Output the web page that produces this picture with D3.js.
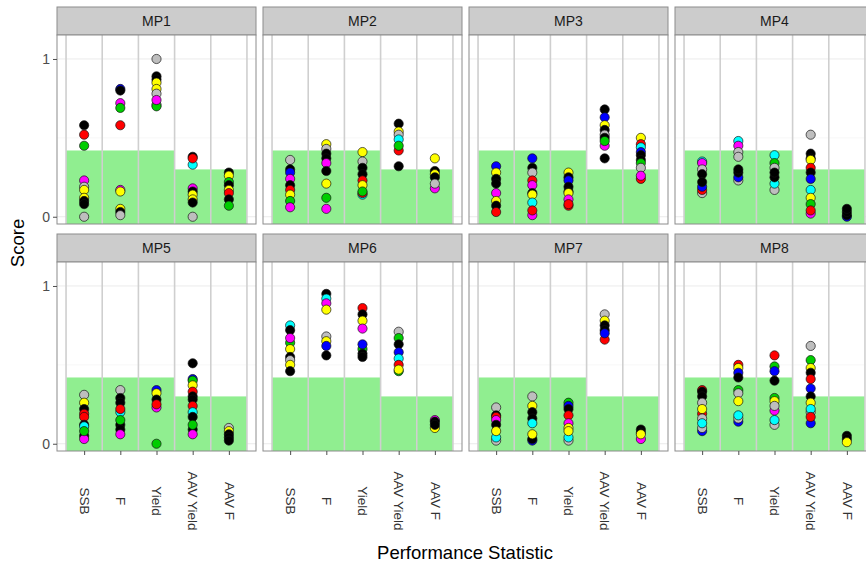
<!DOCTYPE html>
<html>
<head>
<meta charset="utf-8">
<script src="https://cdn.jsdelivr.net/npm/d3@7"></script>
<style>
  body { margin: 0; background: #fff; }
  svg { display: block; font-family: "Liberation Sans", Arial, sans-serif; }
</style>
</head>
<body>
<div id="chart"></div>
<script>
// categories
const stats = ["SSB", "F", "Yield", "AAV Yield", "AAV F"];
const mps = ["MP1", "MP2", "MP3", "MP4", "MP5", "MP6", "MP7", "MP8"];
const targets = [0.42, 0.42, 0.42, 0.30, 0.30];   // green "acceptable" zone per statistic
const yTicks = [0, 1];

// point fills (R palette 1:8)
const palette = { k: "#000000", r: "#ff0000", g: "#00cd00", b: "#0000ff",
                  c: "#00ffff", m: "#ff00ff", y: "#ffff00", gr: "#bebebe" };

// scores: one list per statistic, [value, colour]
const mp1 = [
  [[0.58,"k"],[0.52,"r"],[0.45,"g"],[0.23,"m"],[0.19,"gr"],[0.17,"y"],[0.12,"y"],[0.10,"k"],[0.08,"k"],[0.0,"gr"]],
  [[0.81,"b"],[0.80,"k"],[0.72,"m"],[0.69,"g"],[0.58,"r"],[0.17,"m"],[0.16,"y"],[0.05,"y"],[0.03,"k"],[0.01,"gr"]],
  [[1.0,"gr"],[0.89,"k"],[0.87,"k"],[0.85,"y"],[0.81,"y"],[0.78,"gr"],[0.71,"gr"],[0.70,"g"],[0.74,"m"]],
  [[0.38,"k"],[0.33,"c"],[0.37,"r"],[0.18,"m"],[0.16,"k"],[0.14,"y"],[0.11,"y"],[0.09,"k"],[0.0,"gr"]],
  [[0.28,"k"],[0.26,"y"],[0.22,"g"],[0.20,"k"],[0.17,"y"],[0.15,"r"],[0.11,"k"],[0.07,"g"]]
];
const mp2 = [
  [[0.36,"gr"],[0.30,"k"],[0.28,"b"],[0.24,"m"],[0.20,"k"],[0.17,"r"],[0.14,"y"],[0.10,"g"],[0.06,"m"]],
  [[0.46,"y"],[0.43,"gr"],[0.40,"k"],[0.37,"k"],[0.34,"m"],[0.29,"k"],[0.21,"y"],[0.12,"g"],[0.05,"m"]],
  [[0.41,"y"],[0.35,"gr"],[0.31,"k"],[0.27,"k"],[0.23,"r"],[0.20,"y"],[0.14,"c"],[0.15,"r"],[0.16,"g"]],
  [[0.59,"k"],[0.54,"y"],[0.52,"gr"],[0.49,"c"],[0.42,"r"],[0.45,"g"],[0.32,"k"]],
  [[0.37,"y"],[0.29,"k"],[0.27,"y"],[0.25,"k"],[0.18,"m"],[0.21,"gr"]]
];
const mp3 = [
  [[0.32,"b"],[0.28,"y"],[0.24,"k"],[0.21,"k"],[0.15,"m"],[0.10,"y"],[0.07,"k"],[0.03,"r"]],
  [[0.37,"b"],[0.31,"k"],[0.28,"gr"],[0.23,"r"],[0.20,"m"],[0.15,"k"],[0.14,"y"],[0.09,"c"],[0.01,"m"],[0.04,"r"]],
  [[0.28,"y"],[0.25,"k"],[0.23,"b"],[0.19,"k"],[0.16,"k"],[0.15,"y"],[0.11,"m"],[0.07,"r"],[0.08,"r"]],
  [[0.68,"k"],[0.63,"b"],[0.58,"y"],[0.55,"k"],[0.52,"gr"],[0.50,"k"],[0.45,"m"],[0.48,"g"],[0.37,"k"]],
  [[0.50,"y"],[0.46,"r"],[0.44,"c"],[0.41,"b"],[0.39,"k"],[0.36,"k"],[0.34,"g"],[0.31,"gr"],[0.24,"r"],[0.26,"m"]]
];
const mp4 = [
  [[0.35,"c"],[0.34,"m"],[0.30,"gr"],[0.27,"k"],[0.15,"gr"],[0.17,"r"],[0.19,"b"],[0.22,"k"]],
  [[0.48,"c"],[0.45,"m"],[0.41,"gr"],[0.38,"gr"],[0.23,"gr"],[0.25,"b"],[0.28,"k"],[0.30,"k"]],
  [[0.39,"c"],[0.34,"g"],[0.31,"gr"],[0.17,"gr"],[0.21,"c"],[0.25,"k"],[0.28,"k"]],
  [[0.52,"gr"],[0.40,"k"],[0.37,"k"],[0.36,"y"],[0.31,"r"],[0.28,"k"],[0.24,"b"],[0.17,"c"],[0.12,"y"],[0.08,"g"],[0.02,"m"],[0.04,"r"]],
  [[0.0,"b"],[0.01,"k"],[0.03,"k"],[0.05,"k"]]
];
const mp5 = [
  [[0.31,"gr"],[0.26,"y"],[0.22,"k"],[0.19,"r"],[0.17,"r"],[0.12,"k"],[0.11,"c"],[0.05,"k"],[0.03,"m"],[0.08,"g"]],
  [[0.34,"gr"],[0.29,"k"],[0.26,"k"],[0.20,"c"],[0.22,"r"],[0.12,"k"],[0.09,"k"],[0.06,"m"],[0.15,"g"]],
  [[0.34,"b"],[0.32,"y"],[0.28,"k"],[0.23,"m"],[0.25,"r"],[0.0,"g"]],
  [[0.51,"k"],[0.41,"b"],[0.40,"g"],[0.37,"y"],[0.33,"r"],[0.30,"k"],[0.28,"k"],[0.24,"r"],[0.20,"c"],[0.17,"k"],[0.09,"k"],[0.06,"m"],[0.12,"g"]],
  [[0.10,"gr"],[0.08,"y"],[0.06,"k"],[0.04,"k"],[0.02,"k"]]
];
const mp6 = [
  [[0.75,"c"],[0.72,"k"],[0.64,"g"],[0.67,"m"],[0.60,"y"],[0.55,"k"],[0.53,"gr"],[0.50,"y"],[0.46,"k"]],
  [[0.95,"k"],[0.92,"c"],[0.89,"m"],[0.85,"y"],[0.68,"gr"],[0.65,"y"],[0.62,"b"],[0.56,"k"]],
  [[0.86,"r"],[0.82,"k"],[0.78,"y"],[0.73,"m"],[0.60,"g"],[0.63,"b"],[0.57,"k"],[0.55,"k"]],
  [[0.71,"gr"],[0.67,"g"],[0.63,"k"],[0.58,"b"],[0.54,"c"],[0.50,"r"],[0.46,"g"],[0.47,"y"]],
  [[0.15,"m"],[0.14,"k"],[0.10,"y"],[0.12,"k"]]
];
const mp7 = [
  [[0.23,"gr"],[0.18,"k"],[0.17,"r"],[0.15,"m"],[0.12,"k"],[0.02,"gr"],[0.04,"c"],[0.08,"y"]],
  [[0.30,"gr"],[0.24,"y"],[0.20,"k"],[0.16,"k"],[0.13,"c"],[0.02,"b"],[0.03,"k"],[0.06,"y"]],
  [[0.26,"g"],[0.24,"b"],[0.22,"k"],[0.18,"r"],[0.13,"m"],[0.10,"y"],[0.02,"gr"],[0.04,"c"],[0.08,"y"]],
  [[0.82,"gr"],[0.78,"y"],[0.75,"k"],[0.72,"k"],[0.66,"r"],[0.70,"b"]],
  [[0.09,"k"],[0.07,"k"],[0.03,"m"],[0.06,"y"]]
];
const mp8 = [
  [[0.34,"r"],[0.33,"k"],[0.30,"k"],[0.26,"gr"],[0.19,"r"],[0.22,"y"],[0.16,"gr"],[0.08,"b"],[0.10,"gr"],[0.13,"c"]],
  [[0.50,"r"],[0.48,"y"],[0.45,"b"],[0.42,"k"],[0.34,"g"],[0.32,"gr"],[0.27,"y"],[0.14,"b"],[0.16,"gr"],[0.18,"c"]],
  [[0.56,"r"],[0.49,"g"],[0.46,"b"],[0.40,"k"],[0.29,"g"],[0.27,"y"],[0.21,"m"],[0.24,"gr"],[0.12,"gr"],[0.15,"c"]],
  [[0.62,"gr"],[0.53,"g"],[0.48,"y"],[0.45,"k"],[0.41,"r"],[0.35,"b"],[0.30,"k"],[0.20,"gr"],[0.26,"y"],[0.22,"c"],[0.13,"b"],[0.17,"r"]],
  [[0.05,"k"],[0.03,"k"],[0.01,"y"]]
];
const scores = [mp1, mp2, mp3, mp4, mp5, mp6, mp7, mp8];

const width = 866, height = 573;
const panelW = 199, panelH = 189, stripH = 28;
const colLeft = [57, 263, 469, 675];
const rowTop = [35, 262];

const svg = d3.select("#chart").append("svg")
    .attr("width", width)
    .attr("height", height);

let x = d3.scaleLinear().domain([0.25, 5.75]).range([0, panelW]);
let y = d3.scaleLinear().domain([-0.046, 1.152]).range([panelH, 0]);

mps.forEach((mp, i) => {
    const col = i % 4, row = Math.floor(i / 4);
    const g = svg.append("g")
        .attr("transform", `translate(${colLeft[col]},${rowTop[row]})`);

    // strip
    g.append("rect")
        .attr("x", 0).attr("y", -stripH)
        .attr("width", panelW).attr("height", stripH)
        .attr("fill", "#cccccc").attr("stroke", "#8c8c8c").attr("stroke-width", 1);
    g.append("text")
        .attr("x", panelW / 2).attr("y", -stripH / 2)
        .attr("dy", "0.36em")
        .attr("text-anchor", "middle")
        .attr("font-size", 14)
        .attr("fill", "#1a1a1a")
        .text(mp);

    // background + faint grid
    g.append("rect").attr("width", panelW).attr("height", panelH).attr("fill", "#fff");
    g.selectAll(".hgrid")
        .data([0, 0.5, 1])
        .join("line")
        .attr("x1", 0).attr("x2", panelW)
        .attr("y1", d => y(d)).attr("y2", d => y(d))
        .attr("stroke", d => d === 0.5 ? "#f7f7f7" : "#ebebeb");

    // green target zones
    g.selectAll(".zone")
        .data(stats)
        .join("rect")
        .attr("x", (d, j) => x(j + 0.5))
        .attr("width", x(1.5) - x(0.5))
        .attr("y", (d, j) => y(targets[j]))
        .attr("height", (d, j) => panelH - y(targets[j]))
        .attr("fill", "#90ee90");

    // separators between statistics
    g.selectAll(".sep")
        .data(d3.range(0.5, 6, 1))
        .join("line")
        .attr("x1", d => x(d)).attr("x2", d => x(d))
        .attr("y1", 0).attr("y2", panelH)
        .attr("stroke", "#cfcfcf").attr("stroke-width", 1.6);

    // points
    const pts = [];
    scores[i].forEach((list, j) => list.forEach(p => pts.push({ s: j + 1, v: p[0], c: p[1] })));
    g.selectAll("circle")
        .data(pts)
        .join("circle")
        .attr("cx", d => x(d.s))
        .attr("cy", d => y(d.v))
        .attr("r", 4.6)
        .attr("fill", d => palette[d.c])
        .attr("stroke", "#111")
        .attr("stroke-width", 0.8)
        .attr("stroke-opacity", 0.85);

    g.append("rect")
        .attr("width", panelW).attr("height", panelH)
        .attr("fill", "none").attr("stroke", "#8c8c8c").attr("stroke-width", 1);

    // y axis on first column
    if (col === 0) {
        const ya = g.append("g").call(d3.axisLeft(y).tickValues(yTicks).tickFormat(d3.format("d")).tickSize(4).tickPadding(3));
        ya.select(".domain").remove();
        ya.selectAll("line").attr("stroke", "#4d4d4d");
        ya.selectAll("text").attr("font-size", 14).attr("fill", "#4d4d4d").attr("font-family", "Liberation Sans, Arial, sans-serif");
    }

    // x axis on bottom row
    if (row === 1) {
        const xa = g.append("g")
            .attr("transform", `translate(0,${panelH})`)
            .call(d3.axisBottom(x).tickValues([1, 2, 3, 4, 5]).tickFormat((d) => stats[d - 1]).tickSize(4));
        xa.select(".domain").remove();
        xa.selectAll("line").attr("stroke", "#4d4d4d");
        xa.selectAll("text")
            .attr("font-size", 13.5)
            .attr("fill", "#333")
            .attr("font-family", "Liberation Sans, Arial, sans-serif")
            .attr("text-anchor", "middle")
            .attr("dy", "0.35em")
            .attr("transform", "translate(0,50) rotate(90)")
            .attr("y", 0).attr("x", 0);
    }
});

// axis titles
svg.append("text")
    .attr("x", 465).attr("y", 559)
    .attr("text-anchor", "middle")
    .attr("font-size", 18.5)
    .text("Performance Statistic");

svg.append("text")
    .attr("transform", "translate(24,243) rotate(-90)")
    .attr("text-anchor", "middle")
    .attr("font-size", 18.5)
    .text("Score");
</script>
</body>
</html>
